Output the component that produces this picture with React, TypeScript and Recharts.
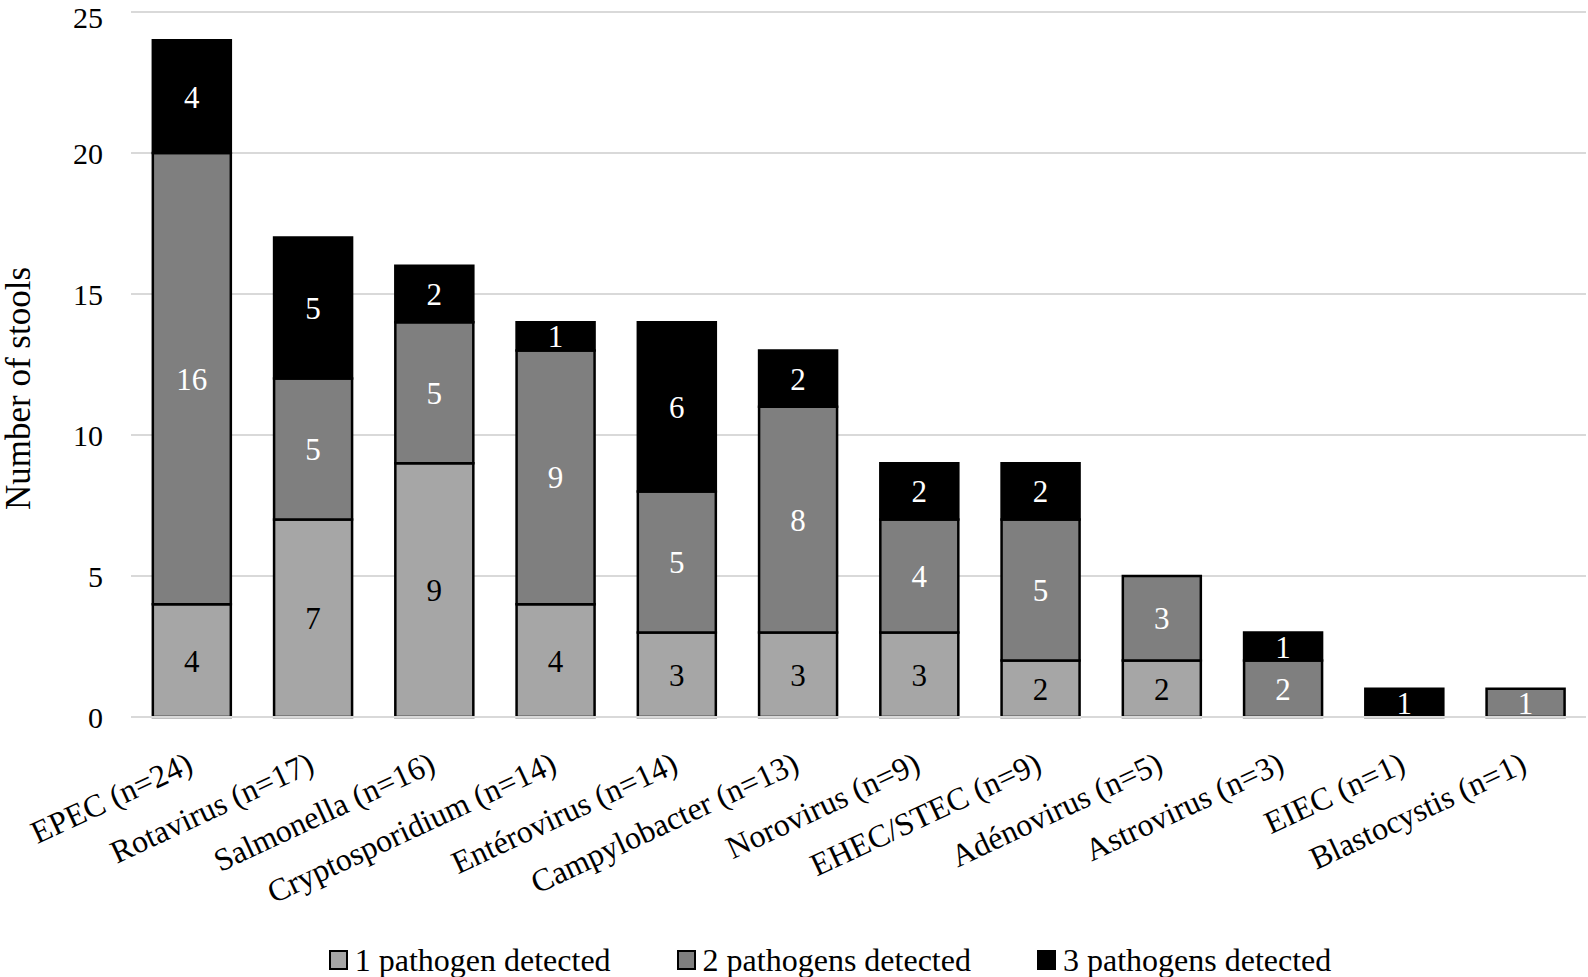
import { BarChart, Bar, CartesianGrid, XAxis, YAxis, Legend, LabelList } from "recharts";

const categories = [
  "EPEC (n=24)",
  "Rotavirus (n=17)",
  "Salmonella (n=16)",
  "Cryptosporidium (n=14)",
  "Entérovirus (n=14)",
  "Campylobacter (n=13)",
  "Norovirus (n=9)",
  "EHEC/STEC (n=9)",
  "Adénovirus (n=5)",
  "Astrovirus (n=3)",
  "EIEC (n=1)",
  "Blastocystis (n=1)",
];
const onePathogen = [4, 7, 9, 4, 3, 3, 3, 2, 2, 0, 0, 0];
const twoPathogens = [16, 5, 5, 9, 5, 8, 4, 5, 3, 2, 0, 1];
const threePathogens = [4, 5, 2, 1, 6, 2, 2, 2, 0, 1, 1, 0];
const yTicks = [0, 5, 10, 15, 20, 25];

const series = [
  { key: "one", name: "1 pathogen detected", color: "#a6a6a6", text: "#000" },
  { key: "two", name: "2 pathogens detected", color: "#7f7f7f", text: "#fff" },
  { key: "three", name: "3 pathogens detected", color: "#000000", text: "#fff" },
];

const data = categories.map((name, i) => ({
  name,
  one: onePathogen[i],
  two: twoPathogens[i],
  three: threePathogens[i],
}));

const FONT = "'Liberation Serif', 'Times New Roman', serif";

function XTick({ x, y, payload }: any) {
  return (
    <g transform={`translate(${x + 3},${y + 46})`}>
      <text
        x={0}
        y={0}
        textAnchor="end"
        transform="rotate(-25)"
        fontFamily={FONT}
        fontSize={32}
        fill="#000"
      >
        {payload.value}
      </text>
    </g>
  );
}

function LegendBox() {
  return (
    <div
      style={{
        height: 90,
        display: "flex",
        justifyContent: "center",
        alignItems: "flex-start",
        paddingTop: 57,
        gap: 66,
        fontFamily: FONT,
        fontSize: 32,
        paddingLeft: 74,
        boxSizing: "border-box",
        lineHeight: "32px",
      }}
    >
      {series.map((s) => (
        <span key={s.key} style={{ display: "flex", alignItems: "center" }}>
          <span
            style={{
              width: 15,
              height: 16,
              background: s.color,
              border: "2px solid #000",
              marginRight: 7,
              display: "inline-block",
            }}
          />
          {s.name}
        </span>
      ))}
    </div>
  );
}

export default function App() {
  return (
    <div
      style={{
        position: "fixed",
        left: 0,
        top: 0,
        width: 1588,
        height: 977,
        overflow: "hidden",
        background: "#fff",
      }}
    >
      <BarChart
        width={1588}
        height={977}
        data={data}
        margin={{ top: 12, right: 2, left: 0, bottom: 0 }}
        barCategoryGap="18%"
      >
        <CartesianGrid vertical={false} stroke="#d9d9d9" strokeWidth={2} />
        <XAxis
          dataKey="name"
          interval={0}
          height={170}
          tick={<XTick />}
          tickLine={false}
          axisLine={{ stroke: "#d9d9d9", strokeWidth: 2 }}
        />
        <YAxis
          width={131}
          domain={[0, 25]}
          ticks={yTicks}
          axisLine={false}
          tickLine={false}
          tickMargin={22}
          tick={{ fontFamily: FONT, fontSize: 30, fill: "#000" }}
          label={{
            value: "Number of stools",
            angle: -90,
            position: "insideLeft",
            offset: 0,
            dx: 18,
            dy: 24,
            style: { fontFamily: FONT, fontSize: 35, fill: "#000", textAnchor: "middle" },
          }}
        />
        <Legend verticalAlign="bottom" content={<LegendBox />} />
        {series.map((s) => (
          <Bar
            key={s.key}
            dataKey={s.key}
            name={s.name}
            stackId="a"
            fill={s.color}
            stroke="#000"
            strokeWidth={2.5}
            isAnimationActive={false}
          >
            <LabelList
              dataKey={s.key}
              position="center"
              formatter={(v: any) => (v ? v : "")}
              style={{ fontFamily: FONT, fontSize: 31, fill: s.text }}
            />
          </Bar>
        ))}
      </BarChart>
    </div>
  );
}
